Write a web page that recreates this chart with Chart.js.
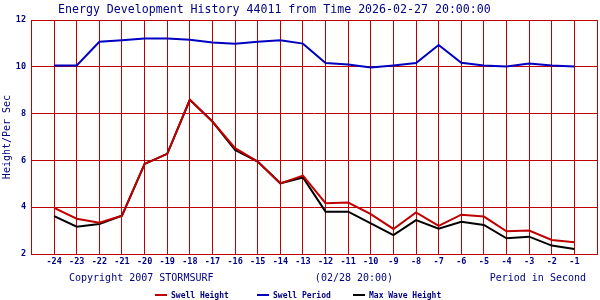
<!DOCTYPE html>
<html>
<head>
<meta charset="utf-8">
<title>Energy Development History 44011</title>
<script src="https://cdn.jsdelivr.net/npm/chart.js@4/dist/chart.umd.min.js"></script>
<style>
  html, body { margin: 0; padding: 0; background: #fff; }
  canvas { display: block; }
</style>
</head>
<body>
<canvas id="energyChart" width="600" height="300"></canvas>
<script>
// hours before the forecast time
const hours = [-24, -23, -22, -21, -20, -19, -18, -17, -16, -15, -14, -13,
               -12, -11, -10, -9, -8, -7, -6, -5, -4, -3, -2, -1];

// values
const swellHeight = [3.97, 3.51, 3.34, 3.64, 5.85, 6.28, 8.59, 7.66, 6.52, 5.95, 5.02, 5.35,
                     4.17, 4.20, 3.70, 3.07, 3.78, 3.20, 3.68, 3.60, 2.97, 3.00, 2.60, 2.50];
const swellPeriod = [10.06, 10.06, 11.07, 11.13, 11.21, 11.21, 11.16, 11.04, 10.99, 11.07, 11.13, 10.99,
                     10.16, 10.10, 9.97, 10.06, 10.16, 10.93, 10.17, 10.06, 10.01, 10.14, 10.06, 10.01];
const maxWaveHeight = [3.62, 3.17, 3.28, 3.64, 5.85, 6.28, 8.59, 7.66, 6.45, 5.95, 5.02, 5.27,
                       3.81, 3.81, 3.31, 2.81, 3.45, 3.08, 3.38, 3.24, 2.67, 2.74, 2.36, 2.21];

const seriesNames = ['Swell Height', 'Swell Period', 'Max Wave Height'];
const seriesColors = ['#c00000', '#0000c0', '#000000'];

const titleText = 'Energy Development History 44011 from Time 2026-02-27 20:00:00';
const footerLeft = 'Copyright 2007 STORMSURF';
const footerMid = '(02/28 20:00)';
const footerRight = 'Period in Second';

const navy = '#000080';
const gridRed = '#c00000';
const mono = '"DejaVu Sans Mono", "Liberation Mono", monospace';

function toPoints(values) {
    return values.map(function (v, i) { return { x: hours[i], y: v }; });
}

// title, footer line and legend are drawn by hand to keep their odd positions
const textPlugin = {
    id: 'stormsurfText',
    afterDraw: function (chart) {
        const ctx = chart.ctx;
        ctx.save();
        ctx.fillStyle = navy;
        ctx.textBaseline = 'alphabetic';

        ctx.font = '11.6px ' + mono;
        ctx.textAlign = 'left';
        ctx.fillText(titleText, 58, 13);

        ctx.font = '10px ' + mono;
        ctx.textBaseline = 'middle';
        ctx.textAlign = 'left';
        ctx.fillText(footerLeft, 69, 278);
        ctx.textAlign = 'center';
        ctx.fillText(footerMid, 354, 278);
        ctx.textAlign = 'right';
        ctx.fillText(footerRight, 586, 278);

        // legend
        const legendX = [155, 257, 353];
        ctx.font = 'bold 8px ' + mono;
        ctx.textAlign = 'left';
        chart.data.datasets.forEach(function (ds, i) {
            ctx.fillStyle = ds.borderColor;
            ctx.fillRect(legendX[i], 294, 12, 2);
            ctx.fillStyle = navy;
            ctx.fillText(ds.label, legendX[i] + 16, 295.5);
        });
        ctx.restore();
    }
};

const chart = new Chart(document.getElementById('energyChart').getContext('2d'), {
    type: 'line',
    data: {
        datasets: [{
            label: seriesNames[0],
            data: toPoints(swellHeight),
            borderColor: seriesColors[0],
            backgroundColor: seriesColors[0],
            borderWidth: 2
        }, {
            label: seriesNames[1],
            data: toPoints(swellPeriod),
            borderColor: seriesColors[1],
            backgroundColor: seriesColors[1],
            borderWidth: 2
        }, {
            label: seriesNames[2],
            data: toPoints(maxWaveHeight),
            borderColor: seriesColors[2],
            backgroundColor: seriesColors[2],
            borderWidth: 2
        }]
    },
    options: {
        responsive: false,
        animation: false,
        elements: {
            point: { radius: 0, hoverRadius: 0 },
            line: { tension: 0 }
        },
        layout: {
            padding: { top: 20, right: 1, bottom: 0, left: 0 }
        },
        scales: {
            x: {
                type: 'linear',
                min: -25,
                max: 0,
                grid: { color: gridRed, lineWidth: 1, drawTicks: false },
                border: { color: gridRed, width: 1 },
                ticks: {
                    stepSize: 1,
                    autoSkip: false,
                    maxRotation: 0,
                    padding: 3,
                    color: navy,
                    font: { family: mono, size: 8.5, weight: 'bold' },
                    callback: function (v) {
                        return (v === -25 || v === 0) ? '' : String(v);
                    }
                },
                afterFit: function (scale) { scale.height = 46; }
            },
            y: {
                min: 2,
                max: 12,
                grid: { color: gridRed, lineWidth: 1, drawTicks: false },
                border: { color: gridRed, width: 1 },
                ticks: {
                    stepSize: 2,
                    padding: 5.5,
                    color: navy,
                    font: { family: mono, size: 8.5, weight: 'bold' }
                },
                title: {
                    display: true,
                    text: 'Height/Per Sec',
                    color: navy,
                    padding: 1,
                    font: { family: mono, size: 10 }
                },
                afterFit: function (scale) { scale.width = 31.5; }
            }
        },
        plugins: {
            legend: { display: false },
            title: { display: false },
            tooltip: { enabled: false }
        }
    },
    plugins: [textPlugin]
});
</script>
</body>
</html>
